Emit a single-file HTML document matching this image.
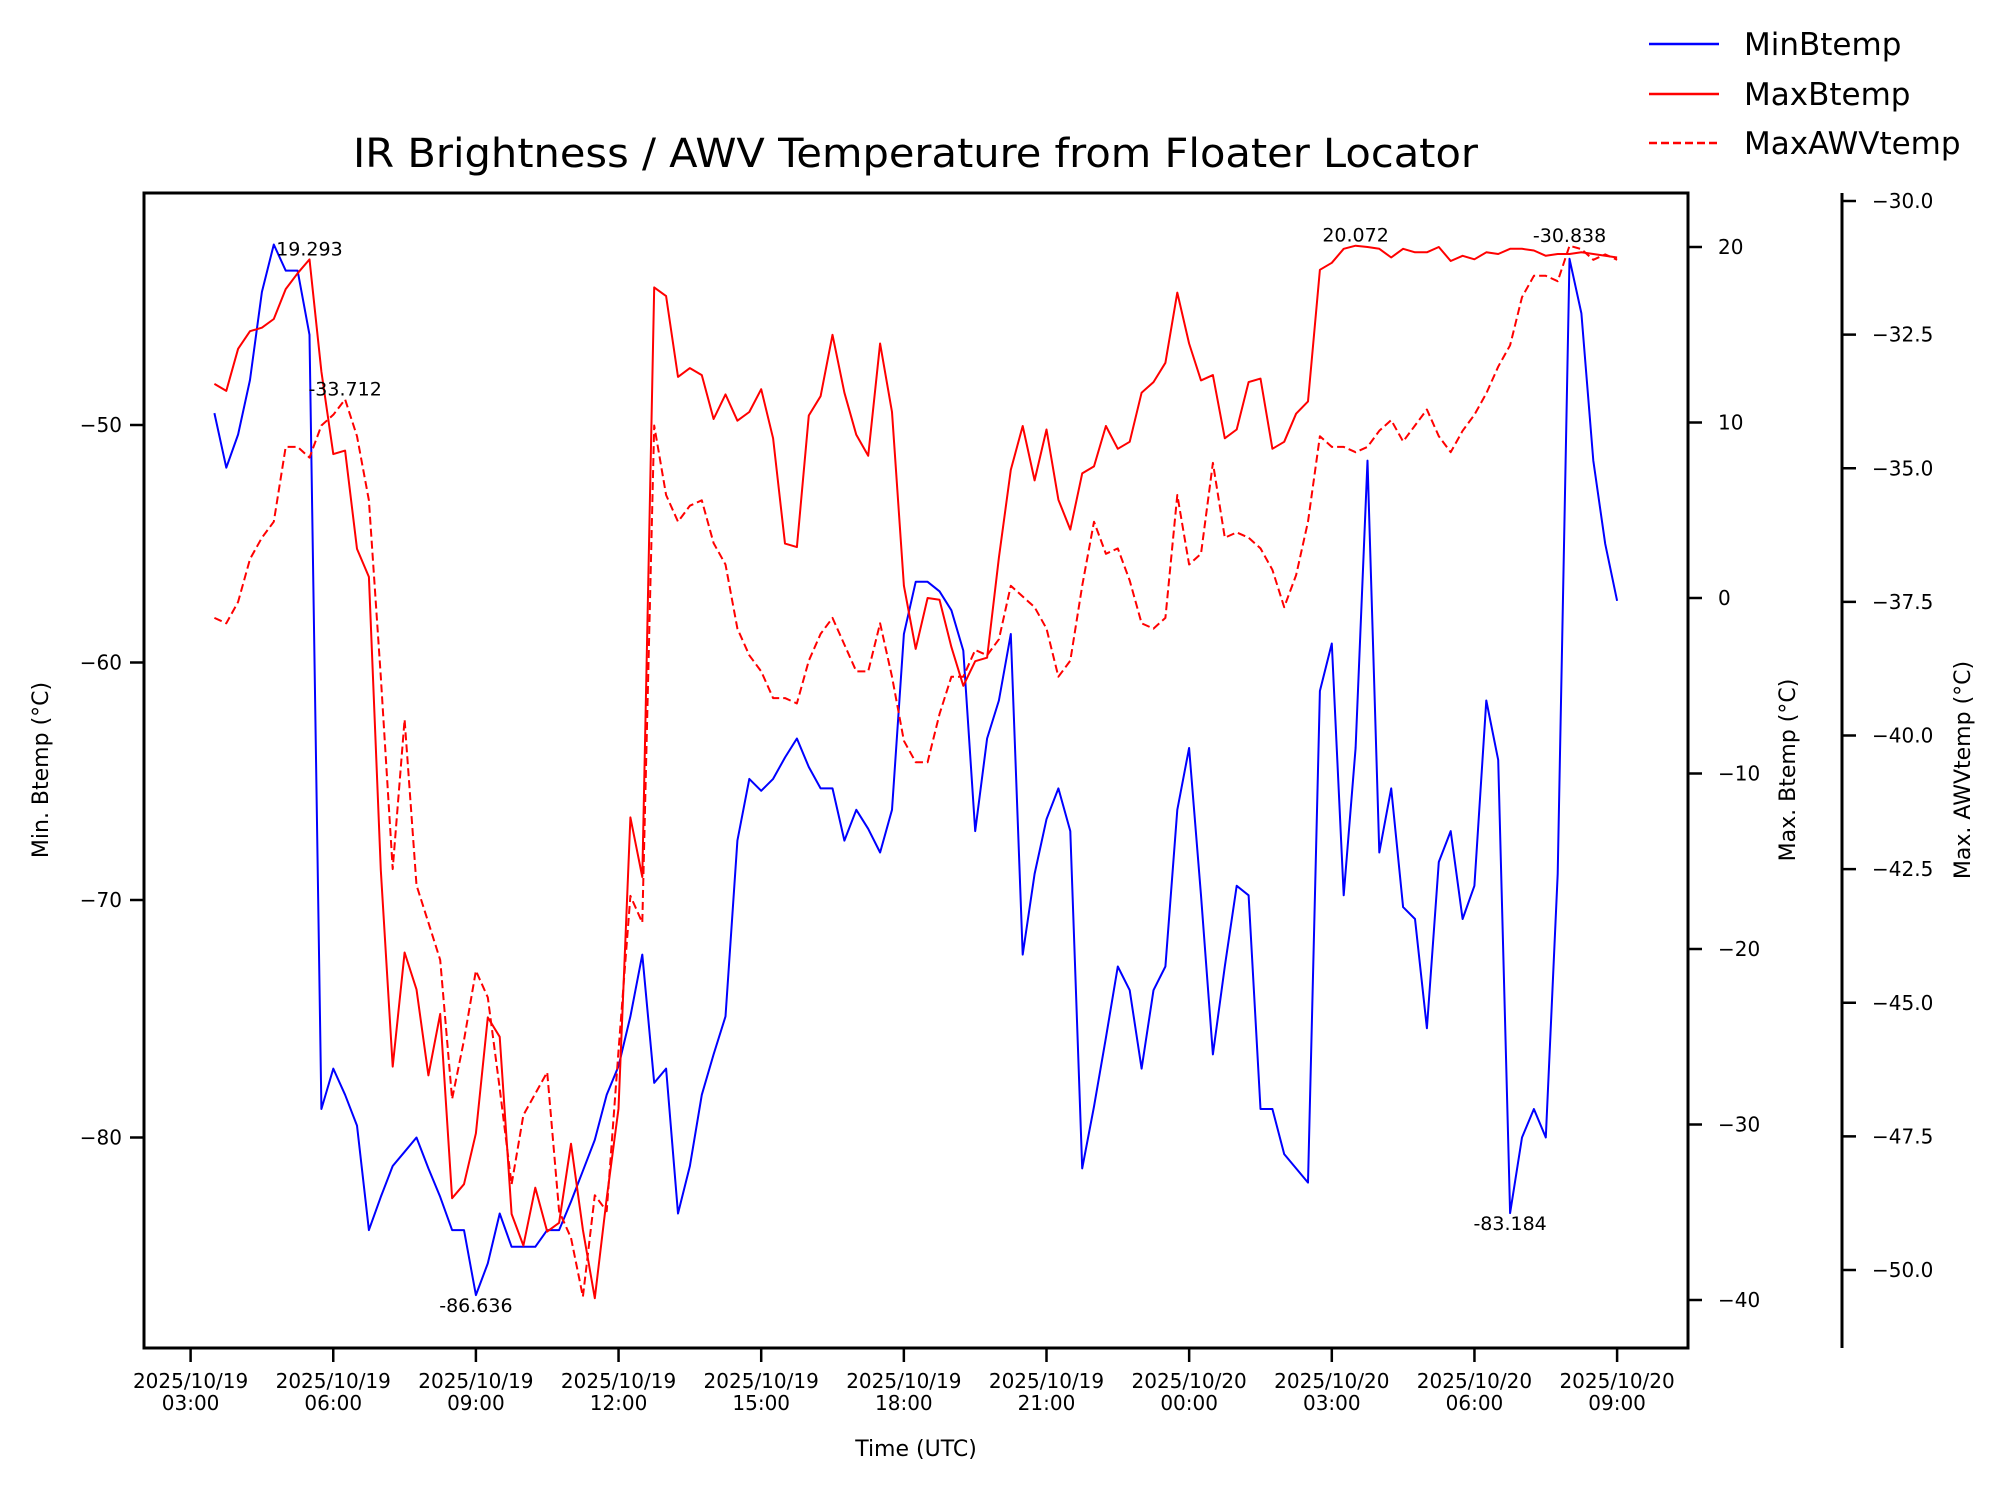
<!DOCTYPE html>
<html><head><meta charset="utf-8"><style>
html,body{margin:0;padding:0;background:#fff}
svg{display:block;font-family:"DejaVu Sans","Liberation Sans",sans-serif}
</style></head><body>
<svg id="chart" width="2005" height="1491" viewBox="0 0 2005 1491" xmlns="http://www.w3.org/2000/svg">
<rect width="2005" height="1491" fill="#fff"/>
<text x="353" y="167" font-size="40" textLength="1125" lengthAdjust="spacingAndGlyphs">IR Brightness / AWV Temperature from Floater Locator</text>
<g id="plot"></g>
<g>
<line x1="1649" y1="44" x2="1719" y2="44" stroke="#0000ff" stroke-width="2.5"/>
<text x="1744" y="55" font-size="31">MinBtemp</text>
<line x1="1649" y1="94" x2="1719" y2="94" stroke="#ff0000" stroke-width="2.5"/>
<text x="1744" y="105" font-size="31">MaxBtemp</text>
<line x1="1649" y1="143" x2="1719" y2="143" stroke="#ff0000" stroke-width="2.5" stroke-dasharray="8,4"/>
<text x="1744" y="154" font-size="31">MaxAWVtemp</text>
</g>
<text x="916" y="1456" font-size="22" text-anchor="middle">Time (UTC)</text>
<text transform="translate(48,770) rotate(-90)" font-size="22" text-anchor="middle">Min. Btemp (°C)</text>
<text transform="translate(1795,770) rotate(-90)" font-size="22" text-anchor="middle">Max. Btemp (°C)</text>
<text transform="translate(1970,770) rotate(-90)" font-size="22" text-anchor="middle">Max. AWVtemp (°C)</text>
</svg>
<script>
const startHour = 0.5; // hours after 2025/10/19 03:00
const stepHour = 0.25;
const minBtemp = [-49.5,-51.8,-50.4,-48.1,-44.4,-42.4,-43.5,-43.5,-46.2,-78.8,-77.1,-78.2,-79.5,-83.9,-82.5,-81.2,-80.6,-80.0,-81.3,-82.5,-83.9,-83.9,-86.636,-85.3,-83.2,-84.6,-84.6,-84.6,-83.9,-83.9,-82.7,-81.4,-80.1,-78.2,-77.0,-74.9,-72.3,-77.7,-77.1,-83.2,-81.2,-78.2,-76.5,-74.9,-67.5,-64.9,-65.4,-64.9,-64.0,-63.2,-64.4,-65.3,-65.3,-67.5,-66.2,-67.0,-68.0,-66.2,-58.8,-56.6,-56.6,-57.0,-57.8,-59.5,-67.1,-63.2,-61.6,-58.8,-72.3,-68.9,-66.6,-65.3,-67.1,-81.3,-78.7,-75.8,-72.8,-73.8,-77.1,-73.8,-72.8,-66.2,-63.6,-69.8,-76.5,-72.8,-69.4,-69.8,-78.8,-78.8,-80.7,-81.3,-81.9,-61.2,-59.2,-69.8,-63.6,-51.5,-68.0,-65.3,-70.3,-70.8,-75.4,-68.4,-67.1,-70.8,-69.4,-61.6,-64.1,-83.184,-80.0,-78.8,-80.0,-68.9,-43.0,-45.3,-51.5,-55.0,-57.4];
const maxBtemp = [12.2,11.8,14.2,15.2,15.4,15.9,17.6,18.5,19.293,12.9,8.2,8.4,2.8,1.2,-15.5,-26.7,-20.2,-22.3,-27.2,-23.7,-34.2,-33.4,-30.5,-23.9,-25.0,-35.1,-36.9,-33.6,-36.1,-35.6,-31.1,-36.0,-39.9,-34.2,-29.1,-12.5,-15.9,17.7,17.2,12.6,13.1,12.7,10.2,11.6,10.1,10.6,11.9,9.1,3.1,2.9,10.4,11.5,15.0,11.7,9.3,8.1,14.5,10.6,0.7,-2.9,0.0,-0.1,-2.8,-5.0,-3.6,-3.4,2.3,7.3,9.8,6.7,9.6,5.6,3.9,7.1,7.5,9.8,8.5,8.9,11.7,12.3,13.4,17.4,14.5,12.4,12.7,9.1,9.6,12.3,12.5,8.5,8.9,10.5,11.2,18.7,19.1,19.9,20.072,20.0,19.9,19.4,19.9,19.7,19.7,20.0,19.2,19.5,19.3,19.7,19.6,19.9,19.9,19.8,19.5,19.6,19.6,19.7,19.6,19.5,19.4];
const maxAwv = [-37.8,-37.9,-37.5,-36.7,-36.3,-36.0,-34.6,-34.6,-34.8,-34.2,-34.0,-33.712,-34.4,-35.6,-38.9,-42.5,-39.7,-42.8,-43.5,-44.2,-46.8,-45.7,-44.4,-44.9,-46.6,-48.4,-47.1,-46.7,-46.3,-48.9,-49.4,-50.5,-48.6,-48.9,-45.9,-43.0,-43.5,-34.2,-35.5,-36.0,-35.7,-35.6,-36.4,-36.8,-38.0,-38.5,-38.8,-39.3,-39.3,-39.4,-38.6,-38.1,-37.8,-38.3,-38.8,-38.8,-37.9,-38.9,-40.1,-40.5,-40.5,-39.6,-38.9,-38.9,-38.4,-38.5,-38.2,-37.2,-37.4,-37.6,-38.0,-38.9,-38.6,-37.2,-36.0,-36.6,-36.5,-37.1,-37.9,-38.0,-37.8,-35.5,-36.8,-36.6,-34.9,-36.3,-36.2,-36.3,-36.5,-36.9,-37.6,-37.0,-36.0,-34.4,-34.6,-34.6,-34.7,-34.6,-34.3,-34.1,-34.5,-34.2,-33.9,-34.4,-34.7,-34.3,-34.0,-33.6,-33.1,-32.7,-31.8,-31.4,-31.4,-31.5,-30.838,-30.9,-31.1,-31.0,-31.1];
const xTickHours = [0,3,6,9,12,15,18,21,24,27,30];
const xTickDates = ["2025/10/19","2025/10/19","2025/10/19","2025/10/19","2025/10/19","2025/10/19","2025/10/19","2025/10/20","2025/10/20","2025/10/20","2025/10/20"];
const xTickTimes = ["03:00","06:00","09:00","12:00","15:00","18:00","21:00","00:00","03:00","06:00","09:00"];
const leftTicks = [-50,-60,-70,-80];
const rightTicks = [20,10,0,-10,-20,-30,-40];
const awvTicks = [-30.0,-32.5,-35.0,-37.5,-40.0,-42.5,-45.0,-47.5,-50.0];

const L=144,R=1688,T=193,B=1348,AX=1842;
const xs = h => 190.6 + h*47.55;
const yL = v => 425 + (-50 - v)*23.75;
const yR = v => 247 + (20 - v)*17.55;
const yA = v => 201 + (-30 - v)*53.45;
const NS="http://www.w3.org/2000/svg";
const g=document.getElementById('plot');
function mk(tag,attrs,parent){const e=document.createElementNS(NS,tag);for(const k in attrs)e.setAttribute(k,attrs[k]);(parent||g).appendChild(e);return e;}

function series(arr,yf,color,dash,name){
  const pts=arr.map((v,i)=>xs(startHour+i*stepHour).toFixed(1)+','+yf(v).toFixed(1)).join(' ');
  const p=mk('polyline',{points:pts,fill:'none',stroke:color,'stroke-width':2,'stroke-linejoin':'round'});
  if(dash)p.setAttribute('stroke-dasharray',dash);
  
  
}
series(minBtemp,yL,'#0000ff',null,'minbtemp-line');
series(maxBtemp,yR,'#ff0000',null,'maxbtemp-line');
series(maxAwv,yA,'#ff0000','8,4','maxawvtemp-line');

function annot(arr,yf,mode,name){
  let idx=0;arr.forEach((v,i)=>{if(mode==='max'?v>arr[idx]:v<arr[idx])idx=i;});
  const v=arr[idx];const x=xs(startHour+idx*stepHour),y=yf(v);
  const t=mk('text',{x:x,y:mode==='max'?y-4:y+17,'font-size':19,'text-anchor':'middle'});
  t.textContent=v.toFixed(3);
  
  
}
annot(minBtemp.slice(0,60).concat(Array(59).fill(0)),yL,'min','annotation-min-1');
annot(Array(60).fill(0).concat(minBtemp.slice(60)),yL,'min','annotation-min-2');
annot(maxBtemp.slice(0,60).concat(Array(59).fill(-99)),yR,'max','annotation-max-1');
annot(Array(60).fill(-99).concat(maxBtemp.slice(60)),yR,'max','annotation-max-2');
annot(maxAwv.slice(0,60).concat(Array(59).fill(-99)),yA,'max','annotation-awv-1');
annot(Array(60).fill(-99).concat(maxAwv.slice(60)),yA,'max','annotation-awv-2');

const frame=mk('rect',{x:L,y:T,width:R-L,height:B-T,fill:'none',stroke:'#000','stroke-width':3});


const sp=mk('line',{x1:AX,y1:T,x2:AX,y2:B,stroke:'#000','stroke-width':3});



xTickHours.forEach((h,i)=>{
  const x=xs(h);
  const tk=mk('line',{x1:x,y1:B,x2:x,y2:B+14,stroke:'#000','stroke-width':2.5});
  
  
  const t=mk('text',{x:x,y:B+40,'font-size':20,'text-anchor':'middle'});
  
  
  mk('tspan',{x:x},t).textContent=xTickDates[i];
  mk('tspan',{x:x,dy:22},t).textContent=xTickTimes[i];
});
leftTicks.forEach(v=>{
  const y=yL(v);
  const tk=mk('line',{x1:L-14,y1:y,x2:L,y2:y,stroke:'#000','stroke-width':2.5});
  
  
  const t=mk('text',{x:L-22,y:y+7,'font-size':20,'text-anchor':'end'});
  t.textContent='\u2212'+Math.abs(v);
  
  
});
rightTicks.forEach(v=>{
  const y=yR(v);
  const tk=mk('line',{x1:R,y1:y,x2:R+14,y2:y,stroke:'#000','stroke-width':2.5});
  
  
  const t=mk('text',{x:R+30,y:y+7,'font-size':20});
  t.textContent=(v<0?'\u2212':'')+Math.abs(v);
  
  
});
awvTicks.forEach(v=>{
  const y=yA(v);
  const tk=mk('line',{x1:AX,y1:y,x2:AX+14,y2:y,stroke:'#000','stroke-width':2.5});
  
  
  const t=mk('text',{x:AX+30,y:y+7,'font-size':20});
  t.textContent='\u2212'+Math.abs(v).toFixed(1);
  
  
});
</script>
</body></html>
